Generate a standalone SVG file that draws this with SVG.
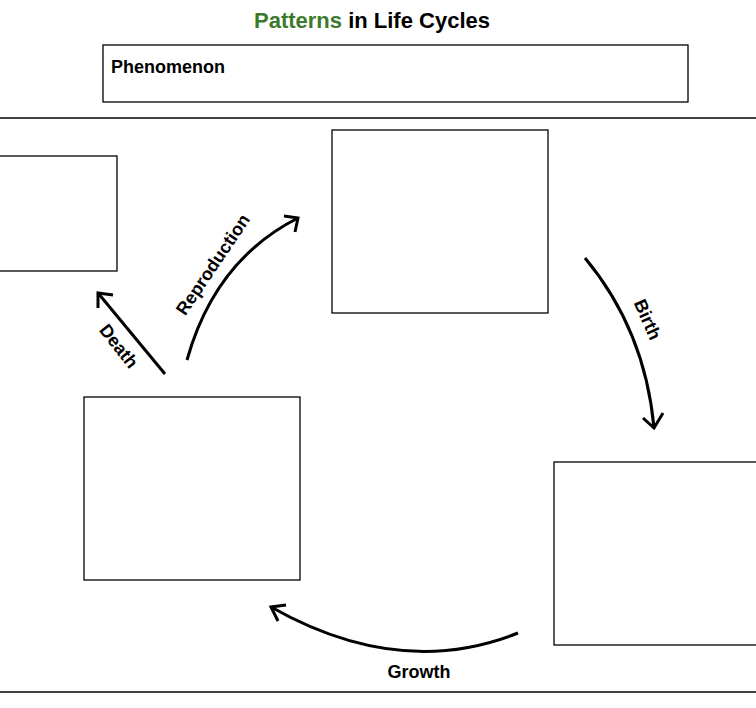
<svg xmlns="http://www.w3.org/2000/svg" width="756" height="708" viewBox="0 0 756 708">
<style>
.box{fill:#fff;stroke:#000;stroke-width:1.3}
.ln{fill:none;stroke:#000;stroke-width:1.3}
.ar{fill:none;stroke:#000;stroke-width:3;stroke-linecap:butt}
.t{font-family:"Liberation Sans",Arial,sans-serif;font-weight:bold;font-size:18px;fill:#000}
</style>
<rect width="756" height="708" fill="#fff"/>
<text x="372" y="28" text-anchor="middle" font-family="Liberation Sans,Arial,sans-serif" font-weight="bold" font-size="22"><tspan fill="#3b7a2a">Patterns</tspan> in Life Cycles</text>
<g id="phenomenon"><rect class="box" x="103" y="45" width="585" height="57"/><text class="t" x="111" y="73">Phenomenon</text></g>
<g id="lines"><line class="ln" x1="0" y1="118" x2="756" y2="118"/><line class="ln" x1="0" y1="692" x2="756" y2="692"/></g>
<g id="node-left"><rect class="box" x="-2" y="156" width="119" height="115"/></g>
<g id="node-top"><rect class="box" x="332" y="130" width="216" height="183"/></g>
<g id="node-bottom-left"><rect class="box" x="84" y="397" width="216" height="183"/></g>
<g id="node-right"><rect class="box" x="554" y="462" width="204" height="183"/></g>
<g id="connectors">
<path class="ar" d="M187,360 Q215,260 298,218"/><polyline class="ar" points="284,216 298,218 295,232"/>
<path class="ar" d="M165,374 L98,293"/><polyline class="ar" points="98,308 98,293 113,295"/>
<path class="ar" d="M585,258 Q645,330 654,428"/><polyline class="ar" points="643,418 654,428 663,413"/>
<path class="ar" d="M518,633 Q400,680 271,607"/><polyline class="ar" points="286,605 271,607 278,621"/>
<text class="t" transform="translate(218,268) rotate(-56)" text-anchor="middle" font-size="17">Reproduction</text>
<text class="t" transform="translate(114,350) rotate(52)" text-anchor="middle" font-size="17">Death</text>
<text class="t" transform="translate(642,322) rotate(66)" text-anchor="middle" font-size="17">Birth</text>
<text class="t" x="419" y="678" text-anchor="middle" font-size="17">Growth</text>
</g>
</svg>
